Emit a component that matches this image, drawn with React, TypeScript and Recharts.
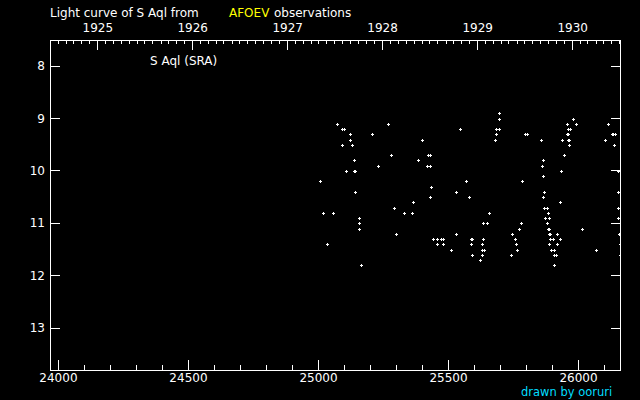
import { ScatterChart, Scatter, XAxis, YAxis } from "recharts";

// observations, [JD - 2400000, visual magnitude], grouped by season
const season1927: [number, number][] = [
  [25004, 10.2], [25019, 10.8], [25031, 11.4], [25057, 10.8], [25073, 9.1],
  [25092, 9.2], [25092, 9.5], [25100, 9.2], [25107, 10.0], [25123, 9.3],
  [25123, 9.4], [25127, 9.5], [25138, 9.8], [25138, 10.0], [25142, 10.0],
  [25142, 10.4], [25157, 10.9], [25157, 11.0], [25157, 11.1], [25165, 11.8],
  [25207, 9.3], [25227, 9.9], [25269, 9.1], [25277, 9.7], [25292, 10.7],
  [25300, 11.2], [25327, 10.8], [25361, 10.8], [25365, 10.6],
];
const season1928: [number, number][] = [
  [25384, 9.8], [25400, 9.4], [25419, 9.9], [25423, 9.7], [25427, 9.7],
  [25427, 9.9], [25430, 10.5], [25434, 10.3], [25442, 11.3], [25454, 11.3],
  [25457, 11.3], [25457, 11.4], [25473, 11.3], [25477, 11.4], [25480, 11.3],
  [25511, 11.5], [25527, 10.4], [25527, 11.2], [25546, 9.2], [25569, 10.2],
  [25580, 10.5], [25588, 11.3], [25588, 11.4], [25592, 11.3], [25592, 11.6],
  [25623, 11.7], [25627, 11.4], [25627, 11.6], [25630, 11.5], [25634, 11.0],
  [25634, 11.3], [25638, 11.5], [25650, 11.0], [25654, 10.8], [25680, 9.4],
  [25684, 9.2], [25684, 9.3], [25696, 8.9], [25696, 9.0], [25696, 9.2],
];
const season1929: [number, number][] = [
  [25742, 11.6], [25746, 11.2], [25757, 11.3], [25761, 11.4], [25765, 11.5],
  [25773, 11.1], [25780, 11.0], [25784, 10.2], [25796, 9.3], [25800, 9.3],
  [25857, 9.4], [25861, 9.9], [25865, 9.8], [25865, 10.1], [25865, 10.5],
  [25869, 10.4], [25869, 10.7], [25873, 10.9], [25877, 11.0], [25880, 10.7],
  [25880, 11.0], [25884, 10.8], [25884, 11.1], [25888, 10.9], [25888, 11.1],
  [25888, 11.2], [25888, 11.4], [25892, 11.2], [25892, 11.3], [25896, 11.5],
  [25900, 11.3], [25904, 11.5], [25904, 11.8], [25907, 11.6], [25907, 11.8],
  [25915, 11.6], [25919, 11.2], [25919, 11.4], [25927, 10.6], [25927, 11.3],
  [25934, 10.0], [25938, 9.4], [25946, 9.7], [25954, 9.1], [25954, 9.3],
  [25961, 9.2], [25961, 9.3], [25961, 9.4], [25965, 9.4], [25965, 9.5],
  [25969, 9.2], [25977, 9.0], [25992, 9.1], [26015, 11.1],
];
const season1930: [number, number][] = [
  [26069, 11.5], [26103, 9.4], [26115, 9.1], [26127, 9.3], [26134, 9.3],
  [26138, 9.5], [26142, 9.3], [26150, 10.0], [26150, 10.4], [26153, 10.7],
  [26153, 10.9], [26157, 11.2], [26160, 11.4], [26161, 11.6],
];

const jdTicks = [
  24000, 24100, 24200, 24300, 24400, 24500, 24600, 24700, 24800, 24900,
  25000, 25100, 25200, 25300, 25400, 25500, 25600, 25700, 25800, 25900,
  26000, 26100,
];
const years = [1924, 1925, 1926, 1927, 1928, 1929, 1930];
const magTicks = [8, 9, 10, 11, 12, 13];

const jdDomain: [number, number] = [23967.5, 26161.5];
const magDomain: [number, number] = [7.5, 13.8];

const data = [...season1927, ...season1928, ...season1929, ...season1930].map(
  ([jd, mag]) => ({ jd, mag })
);

// first day of every month, as JD - 2400000
const monthTicks: number[] = [];
years.forEach((y) => {
  for (let m = 0; m < 12; m++) {
    const jd = Date.UTC(y, m, 1) / 86400000 + 40587.5;
    if (jd > jdDomain[0] && jd < jdDomain[1]) monthTicks.push(jd);
  }
});
const dateOf = (jd: number) => new Date((jd - 40587.5) * 86400000);

const FONT = "DejaVu Sans";

const BottomTick = (props: any) => {
  const { x, y, payload } = props;
  const major = payload.value % 500 === 0;
  return (
    <g>
      <line x1={x} x2={x} y1={y} y2={y - (major ? 10 : 5)} stroke="#fff" shapeRendering="crispEdges" />
      {major && (
        <text x={x} y={y + 12} textAnchor="middle" fill="#fff" fontSize={12} fontFamily={FONT}>
          {payload.value}
        </text>
      )}
    </g>
  );
};

const TopTick = (props: any) => {
  const { x, y, payload } = props;
  const d = dateOf(payload.value);
  const major = d.getUTCMonth() === 0;
  return (
    <g>
      <line x1={x} x2={x} y1={y} y2={y + (major ? 10 : 4)} stroke="#fff" shapeRendering="crispEdges" />
      {major && (
        <text x={x} y={y - 8} textAnchor="middle" fill="#fff" fontSize={12} fontFamily={FONT}>
          {d.getUTCFullYear()}
        </text>
      )}
    </g>
  );
};

const LeftTick = (props: any) => {
  const { x, y, payload } = props;
  return (
    <g>
      <line x1={x} x2={x + 10} y1={y} y2={y} stroke="#fff" shapeRendering="crispEdges" />
      <text x={x - 5} y={y + 4} textAnchor="end" fill="#fff" fontSize={12} fontFamily={FONT}>
        {payload.value}
      </text>
    </g>
  );
};

const RightTick = (props: any) => {
  const { x, y } = props;
  return <line x1={x} x2={x - 10} y1={y} y2={y} stroke="#fff" shapeRendering="crispEdges" />;
};

const Plus = (props: any) => {
  const cx = Math.round(props.cx);
  const cy = Math.round(props.cy);
  return (
    <g shapeRendering="crispEdges" fill="#fff">
      <rect x={cx - 1} y={cy} width={3} height={1} />
      <rect x={cx} y={cy - 1} width={1} height={3} />
    </g>
  );
};

const line = { stroke: "#fff", shapeRendering: "crispEdges" };

export default function App() {
  return (
    <div style={{ position: "absolute", left: 0, top: 0, width: 640, height: 400, background: "#000" }}>
      <ScatterChart width={640} height={400} margin={{ top: 39, right: 18.5, bottom: 29, left: 49 }}>
        <XAxis
          xAxisId="jd"
          dataKey="jd"
          type="number"
          domain={jdDomain}
          allowDataOverflow
          ticks={jdTicks}
          interval={0}
          height={1}
          tickSize={0}
          tickMargin={0}
          axisLine={line}
          tickLine={false}
          tick={BottomTick}
        />
        <XAxis
          xAxisId="yr"
          orientation="top"
          dataKey="jd"
          type="number"
          domain={jdDomain}
          allowDataOverflow
          ticks={monthTicks}
          interval={0}
          height={1}
          tickSize={0}
          tickMargin={0}
          axisLine={line}
          tickLine={false}
          tick={TopTick}
        />
        <YAxis
          yAxisId="mag"
          dataKey="mag"
          type="number"
          domain={magDomain}
          reversed
          allowDataOverflow
          ticks={magTicks}
          interval={0}
          width={1}
          tickSize={0}
          tickMargin={0}
          axisLine={line}
          tickLine={false}
          tick={LeftTick}
        />
        <YAxis
          yAxisId="r"
          orientation="right"
          dataKey="mag"
          type="number"
          domain={magDomain}
          reversed
          allowDataOverflow
          ticks={magTicks}
          interval={0}
          width={1}
          tickSize={0}
          tickMargin={0}
          axisLine={line}
          tickLine={false}
          tick={RightTick}
        />
        <Scatter xAxisId="jd" yAxisId="mag" data={data} shape={Plus} isAnimationActive={false} />
        <Scatter xAxisId="yr" yAxisId="r" data={[]} isAnimationActive={false} />
      </ScatterChart>
      <svg width={640} height={400} style={{ position: "absolute", left: 0, top: 0, pointerEvents: "none" }}>
        <text y={17} fontSize={12} fontFamily={FONT} fill="#fff">
          <tspan x={50}>Light curve of S Aql from</tspan>
          <tspan x={229} fill="#ffff00">AFOEV</tspan>
          <tspan x={274}>observations</tspan>
        </text>
        <text x={150} y={65} fontSize={12} fontFamily={FONT} fill="#fff">
          S Aql (SRA)
        </text>
        <text x={521} y={396} fontSize={11.5} fontFamily={FONT} fill="#00ddff">
          drawn by ooruri
        </text>
      </svg>
    </div>
  );
}
